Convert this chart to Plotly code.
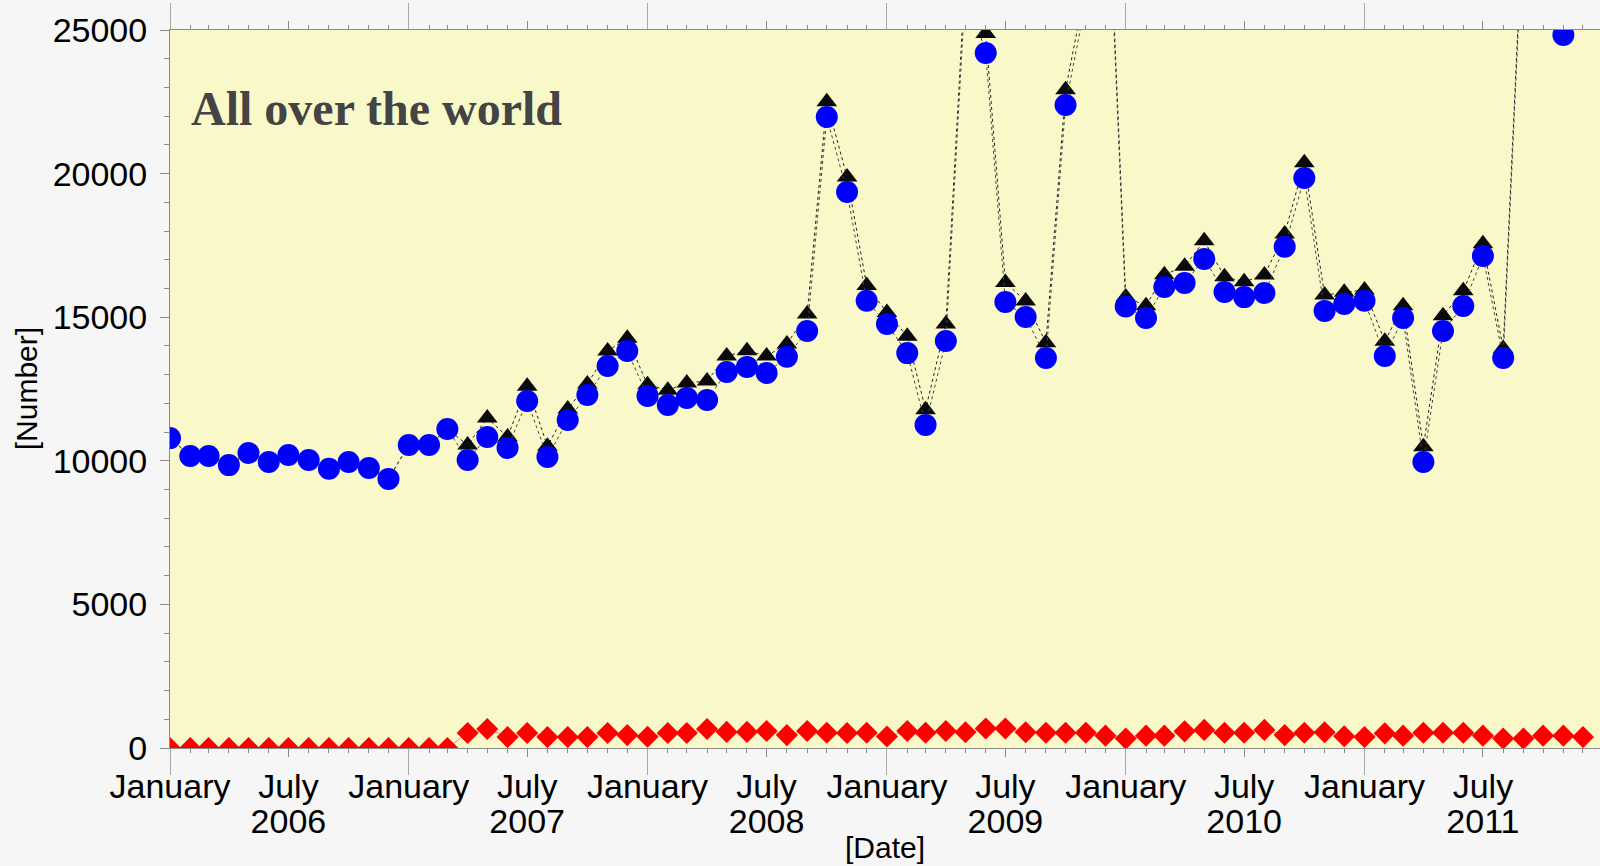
import pandas as pd
import plotly.graph_objects as go

# ---- data ----
months = pd.date_range("2006-01-01", periods=72, freq="MS").strftime("%Y-%m-%d").tolist()

blue_values = [
    10790, 10170, 10170, 9850, 10270, 9960, 10200, 10030, 9720, 9960, 9750, 9370,
    10550, 10550, 11110, 10030, 10830, 10450, 12080, 10130, 11420, 12290, 13300, 13820,
    12260, 11940, 12190, 12120, 13090, 13270, 13060, 13620, 14520, 21970, 19360, 15570,
    14760, 13750, 11250, 14170, 26500, 24200, 15530, 15010, 13580, 22390, 26000, 32000,
    15370, 14970, 16050, 16190, 17030, 15880, 15700, 15840, 17450, 19850, 15220, 15460,
    15570, 13650, 14970, 9960, 14520, 15390, 17130, 13580, 29000, 30000, 24830, 26500,
]

total_values = [
    10790, 10170, 10170, 9850, 10270, 9960, 10200, 10030, 9720, 9960, 9750, 9370,
    10550, 10550, 11110, 10550, 11490, 10830, 12600, 10510, 11800, 12670, 13820, 14270,
    12650, 12460, 12710, 12780, 13650, 13830, 13650, 14070, 15110, 22500, 19880, 16100,
    15160, 14340, 11780, 14760, 27050, 24880, 16210, 15560, 14110, 22920, 26530, 32430,
    15700, 15400, 16480, 16770, 17660, 16410, 16230, 16470, 17900, 20380, 15770, 15870,
    15950, 14160, 15400, 10490, 15050, 15920, 17560, 13910, 29330, 30430, 25260, 26880,
]

red_values = [
    0, 0, 0, 0, 0, 0, 0, 0, 0, 0, 0, 0,
    0, 0, 0, 520, 660, 380, 520, 380, 380, 380, 520, 450,
    390, 520, 520, 660, 560, 560, 590, 450, 590, 530, 520, 530,
    400, 590, 530, 590, 550, 680, 680, 550, 530, 530, 530, 430,
    330, 430, 430, 580, 630, 530, 530, 630, 450, 530, 550, 410,
    380, 510, 430, 530, 530, 530, 430, 330, 330, 430, 430, 380,
]

month_ticks = ["2006-01-01", "2006-07-01", "2007-01-01", "2007-07-01", "2008-01-01", "2008-07-01",
               "2009-01-01", "2009-07-01", "2010-01-01", "2010-07-01", "2011-01-01", "2011-07-01"]
month_labels = ["January", "July"] * 6
year_starts = ["2006-01-01", "2007-01-01", "2008-01-01", "2009-01-01", "2010-01-01", "2011-01-01"]
year_label_pos = ["2006-07-01", "2007-07-01", "2008-07-01", "2009-07-01", "2010-07-01", "2011-07-01"]
year_labels = ["2006", "2007", "2008", "2009", "2010", "2011"]

title_text = "All over the world"
x_title = "[Date]"
y_title = "[Number]"

FONT = "Liberation Sans, Arial, Helvetica, sans-serif"
AXIS_COLOR = "#8a8a8a"
X_RANGE = ["2006-01-01", "2011-12-27"]

fig = go.Figure()

fig.add_trace(go.Scatter(
    x=months, y=red_values, mode="lines+markers",
    line=dict(color="rgba(240,110,110,0.8)", width=1),
    marker=dict(symbol="diamond", size=17, color="#ff0000", line=dict(width=0)),
    name="red", hoverinfo="x+y",
))
fig.add_trace(go.Scatter(
    x=months, y=total_values, mode="lines+markers",
    line=dict(color="#222222", width=1, dash="dot"),
    marker=dict(symbol="triangle-up", size=18, color="#0a0a0a", line=dict(width=0)),
    name="total", hoverinfo="x+y",
))
fig.add_trace(go.Scatter(
    x=months, y=blue_values, mode="lines+markers",
    line=dict(color="#444444", width=1, dash="dot"),
    marker=dict(symbol="circle", size=22, color="#0000ff", line=dict(width=0)),
    name="blue", hoverinfo="x+y",
))
# empty helper traces so the overlaid tick axes are drawn
fig.add_trace(go.Scatter(x=year_starts, y=[None] * len(year_starts), xaxis="x2",
                         mode="markers", showlegend=False, hoverinfo="skip"))
fig.add_trace(go.Scatter(x=year_label_pos, y=[None] * len(year_label_pos), xaxis="x3",
                         mode="markers", showlegend=False, hoverinfo="skip"))

fig.update_layout(
    width=1600, height=866,
    margin=dict(l=170, r=0, t=30, b=118),
    paper_bgcolor="#f6f6f6",
    plot_bgcolor="#f9f8c9",
    showlegend=False,
    font=dict(family=FONT, color="#000000"),
    xaxis=dict(
        type="date", range=X_RANGE,
        tickmode="array", tickvals=month_ticks, ticktext=month_labels,
        tickfont=dict(size=34, family=FONT, color="#000000"),
        ticks="outside", ticklen=8, tickcolor=AXIS_COLOR, tickwidth=1,
        minor=dict(dtick="M1", tick0="2006-01-01", ticks="outside", ticklen=4,
                   tickcolor=AXIS_COLOR, showgrid=False),
        showline=True, linecolor=AXIS_COLOR, linewidth=1, mirror="allticks",
        showgrid=False, zeroline=False,
    ),
    xaxis2=dict(
        type="date", range=X_RANGE, overlaying="x", anchor="y", side="bottom",
        tickmode="array", tickvals=year_starts, showticklabels=False,
        ticks="outside", ticklen=26, tickcolor="#a8a8a8", tickwidth=1,
        showline=True, linecolor=AXIS_COLOR, mirror="ticks",
        showgrid=False, zeroline=False,
    ),
    xaxis3=dict(
        type="date", range=X_RANGE, overlaying="x", anchor="y", side="bottom",
        tickmode="array", tickvals=year_label_pos, ticktext=year_labels,
        tickfont=dict(size=34, family=FONT, color="#000000"),
        ticks="outside", ticklen=8, tickcolor="rgba(0,0,0,0)",
        ticklabelstandoff=35,
        showline=False, showgrid=False, zeroline=False,
    ),
    yaxis=dict(
        range=[0, 25000], tickmode="linear", tick0=0, dtick=5000, tickformat="d",
        tickfont=dict(size=34, family=FONT, color="#000000"),
        ticks="outside", ticklen=9, tickcolor=AXIS_COLOR, tickwidth=1,
        ticklabelstandoff=6,
        minor=dict(dtick=1000, ticks="outside", ticklen=5, tickcolor=AXIS_COLOR, showgrid=False),
        showline=True, linecolor=AXIS_COLOR, linewidth=1,
        showgrid=False, zeroline=False,
    ),
    annotations=[
        dict(text="<b>" + title_text + "</b>", xref="paper", yref="paper",
             x=0.0133, y=0.891, xanchor="left", yanchor="middle", showarrow=False,
             font=dict(family="Liberation Serif, Times New Roman, serif", size=48, color="#444444")),
        dict(text=x_title, xref="paper", yref="paper", x=0.5, y=-0.139,
             xanchor="center", yanchor="middle", showarrow=False,
             font=dict(family=FONT, size=30, color="#000000")),
        dict(text=y_title, xref="paper", yref="paper", x=-0.1007, y=0.501,
             xanchor="center", yanchor="middle", textangle=-90, showarrow=False,
             font=dict(family=FONT, size=30, color="#000000")),
    ],
)

fig.write_html("out.html", config={"displayModeBar": False},
               post_script="document.body.style.margin='0';")
